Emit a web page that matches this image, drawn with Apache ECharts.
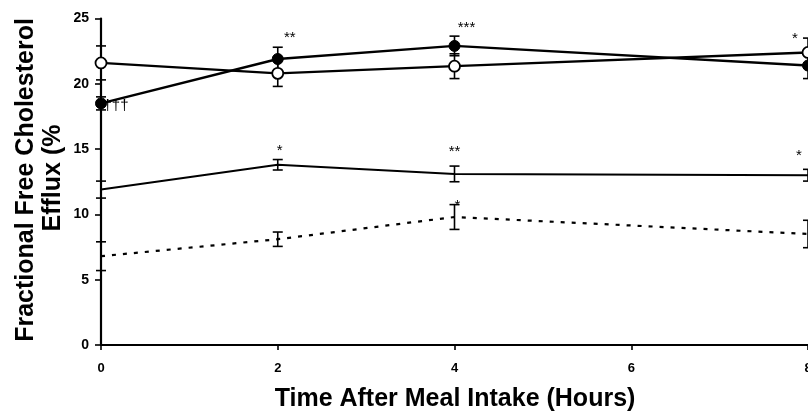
<!DOCTYPE html>
<html>
<head>
<meta charset="utf-8">
<script src="https://cdn.jsdelivr.net/npm/echarts@6/dist/echarts.min.js"></script>
<style>
html,body{margin:0;padding:0;background:#fff;}
#c{width:808px;height:414px;}
</style>
</head>
<body>
<div id="c"></div>
<script>
// ---- data ----
var hours = [0, 2, 4, 8];
var filledVals = [18.5, 21.9, 22.9, 21.4];
var filledErr  = [0.5, 0.9, 0.75, 1.0];
var openVals   = [21.6, 20.8, 21.35, 22.4];
var openErr    = [1.3, 1.0, 0.95, 1.1];
var solidVals  = [11.9, 13.8, 13.1, 13.0];
var solidErr   = [0.65, 0.4, 0.6, 0.45];
var dottedVals = [6.8, 8.1, 9.8, 8.5];
var dottedErr  = [1.1, 0.55, 0.95, 1.05];
var filledMarks = ['\u2020\u2020\u2020', '**', '***', ''];
var openMarks   = ['', '', '', '*'];
var solidMarks  = ['', '*', '**', '*'];
var dottedMarks = ['', '', '*', ''];
var xTicks = [0, 2, 4, 6, 8];
var yTicks = [0, 5, 10, 15, 20, 25];
var xTitle = 'Time After Meal Intake (Hours)';
var yTitleLines = ['Fractional Free Cholesterol', 'Efflux (%'];

// ---- helpers ----
var FONT = '"Liberation Sans", Arial, sans-serif';
function pairs(v){ return hours.map(function(h,i){ return [h, v[i]]; }); }
function errData(v, e){ return hours.map(function(h,i){ return [h, v[i]-e[i], v[i]+e[i]]; }); }
function errSeries(v, e){
  return {
    type: 'custom', z: 3, silent: true, clip:false,
    data: errData(v, e),
    renderItem: function(params, api){
      var x = api.value(0);
      var lo = api.coord([x, api.value(1)]);
      var hi = api.coord([x, api.value(2)]);
      var w = 5;
      var st = {stroke:'#000', lineWidth:1.6};
      return {type:'group', children:[
        {type:'line', shape:{x1:lo[0],y1:lo[1],x2:hi[0],y2:hi[1]}, style:st},
        {type:'line', shape:{x1:lo[0]-w,y1:lo[1],x2:lo[0]+w,y2:lo[1]}, style:st},
        {type:'line', shape:{x1:hi[0]-w,y1:hi[1],x2:hi[0]+w,y2:hi[1]}, style:st}
      ]};
    }
  };
}
function markSeries(v, e, marks, offs){
  var d = [];
  hours.forEach(function(h,i){ if(marks[i]) d.push([h, v[i]+e[i], offs[i][0], offs[i][1], marks[i]]); });
  return {
    type:'custom', z:5, silent:true, clip:false, data:d,
    renderItem:function(params, api){
      var base = api.coord([api.value(0), api.value(1)]);
      return {type:'text', style:{
        text: d[params.dataIndex][4],
        x: base[0] + api.value(2), y: base[1] + api.value(3),
        fill:'#000', font:'15px ' + FONT,
        textAlign:'center', textVerticalAlign:'middle'
      }};
    }
  };
}
// annotation pixel offsets from top of error bar
var filledOffs = [[15, 9],[12,-9],[12,-8],[0,0]];
var openOffs   = [[0,0],[0,0],[0,0],[-13,1]];
var solidOffs  = [[0,0],[2,-9],[0,-14],[-9,-13]];
var dottedOffs = [[0,0],[0,0],[3,1],[0,0]];

var chart = echarts.init(document.getElementById('c'), null, {renderer:'canvas'});
var lbl = {color:'#000', fontWeight:'bold', fontSize:14, fontFamily:FONT};
var option = {
  animation:false,
  backgroundColor:'#fff',
  grid:{left:101, right:0, top:18.5, bottom:69, containLabel:false, outerBoundsMode:'none'},
  xAxis:{
    type:'value', min:0, max:8, interval:2,
    axisLine:{show:true, onZero:false, lineStyle:{color:'#000', width:2.2}},
    axisTick:{show:true, inside:false, length:5, lineStyle:{color:'#000', width:1.6}},
    axisLabel:Object.assign({margin:17, formatter:function(v){ return xTicks.indexOf(v)>=0 ? String(v) : ''; }}, lbl, {fontSize:13}),
    splitLine:{show:false}
  },
  yAxis:{
    type:'value', min:0, max:25, interval:5,
    axisLine:{show:true, onZero:false, lineStyle:{color:'#000', width:2.2}},
    axisTick:{show:true, inside:false, length:6, lineStyle:{color:'#000', width:1.6}},
    axisLabel:Object.assign({margin:12, formatter:function(v){ return yTicks.indexOf(v)>=0 ? String(v) : ''; }}, lbl),
    splitLine:{show:false}
  },
  graphic:[
    {type:'text', x:455, y:399, style:{text:xTitle, fill:'#000',
      font:'bold 25px ' + FONT, textAlign:'center', textVerticalAlign:'middle'}},
    {type:'text', rotation:Math.PI/2, x:26, y:180, style:{text:yTitleLines[0], fill:'#000',
      font:'bold 25px ' + FONT, textAlign:'center', textVerticalAlign:'middle'}},
    {type:'text', rotation:Math.PI/2, x:53, y:178, style:{text:yTitleLines[1], fill:'#000',
      font:'bold 25px ' + FONT, textAlign:'center', textVerticalAlign:'middle'}}
  ],
  series:[
    errSeries(filledVals, filledErr),
    errSeries(openVals, openErr),
    errSeries(solidVals, solidErr),
    errSeries(dottedVals, dottedErr),
    {type:'line', data:pairs(solidVals), symbol:'none', z:2, lineStyle:{color:'#000', width:2}},
    {type:'line', data:pairs(dottedVals), symbol:'none', z:2, lineStyle:{color:'#000', width:2.2, type:[4,7]}},
    {type:'line', data:pairs(openVals), symbol:'circle', symbolSize:11, z:4, clip:false,
      lineStyle:{color:'#000', width:2.4}, itemStyle:{color:'#fff', borderColor:'#000', borderWidth:1.8}},
    {type:'line', data:pairs(filledVals), symbol:'circle', symbolSize:11, z:4, clip:false,
      lineStyle:{color:'#000', width:2.4}, itemStyle:{color:'#000', borderColor:'#000', borderWidth:1}},
    markSeries(filledVals, filledErr, filledMarks, filledOffs),
    markSeries(openVals, openErr, openMarks, openOffs),
    markSeries(solidVals, solidErr, solidMarks, solidOffs),
    markSeries(dottedVals, dottedErr, dottedMarks, dottedOffs)
  ]
};
chart.setOption(option);
</script>
</body>
</html>
